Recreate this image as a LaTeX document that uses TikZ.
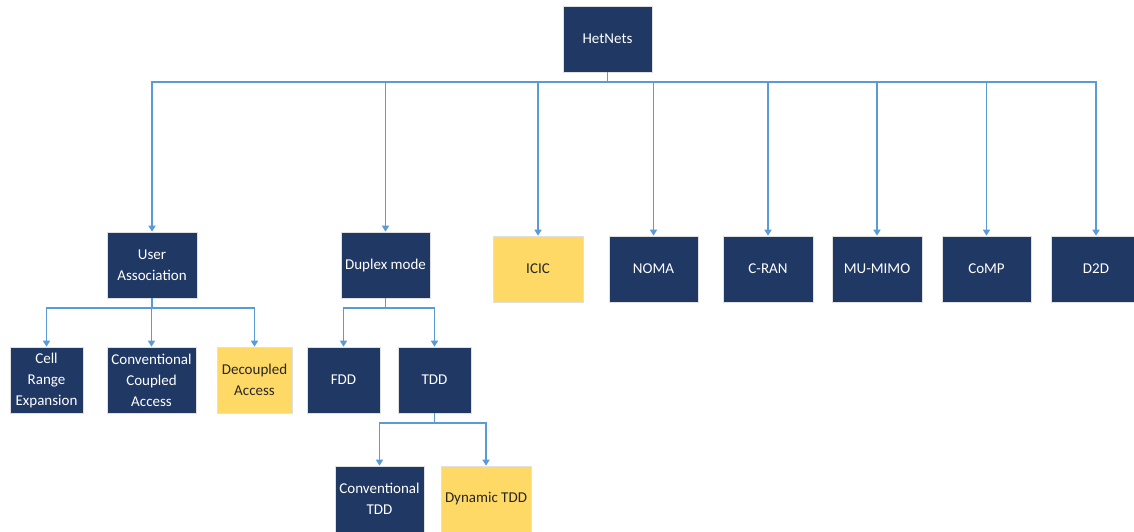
\documentclass[tikz,border=0pt]{standalone}
\usepackage{fontspec}
\setmainfont{Carlito}
\usetikzlibrary{arrows.meta}
\definecolor{navy}{HTML}{203864}
\definecolor{gold}{HTML}{FFD966}
\definecolor{lineblue}{HTML}{5B9BD5}
\tikzset{
  box/.style={rectangle, draw=black!12, line width=0.6pt, align=center, inner sep=2pt,
    font=\fontsize{15}{21}\selectfont, minimum height=66pt},
  dark/.style={box, fill=navy, text=white},
  light/.style={box, fill=gold, text=black!85},
  conn/.style={draw=lineblue, line width=1.6pt, -{Triangle[width=7pt,length=6pt]}}
}
\begin{document}
\begin{tikzpicture}[x=1pt,y=-1pt]
\clip (0,0) rectangle (1134,532);
\useasboundingbox (0,0) rectangle (1134,532);
\fill[white] (0,0) rectangle (1134,532);
% nodes
\node[dark, minimum width=89pt] (het) at (607.5,39) {HetNets};
\node[dark, minimum width=90pt] (ua) at (152,265) {User\\Association};
\node[dark, minimum width=89pt] (dup) at (385.5,265) {Duplex mode};
\node[light, minimum width=90pt] (icic) at (538,269) {ICIC};
\node[dark, minimum width=89pt] (noma) at (653.5,269) {NOMA};
\node[dark, minimum width=90pt] (cran) at (768,269) {C-RAN};
\node[dark, minimum width=90pt] (mumimo) at (877,269) {MU-MIMO};
\node[dark, minimum width=89pt] (comp) at (986.5,269) {CoMP};
\node[dark, minimum width=90pt] (d2d) at (1096,269) {D2D};
\node[dark, minimum width=73pt] (cre) at (46.5,380) {Cell\\Range\\Expansion};
\node[dark, minimum width=89pt] (cca) at (151.5,380) {Conventional\\Coupled\\Access};
\node[light, minimum width=75pt] (dec) at (254.5,380) {Decoupled\\Access};
\node[dark, minimum width=73pt] (fdd) at (343.5,380) {FDD};
\node[dark, minimum width=73pt] (tdd) at (434.5,380) {TDD};
\node[dark, minimum width=89pt] (ctdd) at (379.5,499) {Conventional\\TDD};
\node[light, minimum width=90pt] (dtdd) at (486,499) {Dynamic TDD};
% bus coordinates
\coordinate (b0) at (0,82);
\coordinate (b1) at (0,308);
\coordinate (b2) at (0,423);
% connectors
\foreach \n in {ua,dup,icic,noma,cran,mumimo,comp,d2d}
  \draw[conn] (het.south) -- (het.south |- b0) -| (\n.north);
\foreach \n in {cre,cca,dec}
  \draw[conn] (ua.south) -- (ua.south |- b1) -| (\n.north);
\foreach \n in {fdd,tdd}
  \draw[conn] (dup.south) -- (dup.south |- b1) -| (\n.north);
\foreach \n in {ctdd,dtdd}
  \draw[conn] (tdd.south) -- (tdd.south |- b2) -| (\n.north);
\end{tikzpicture}
\end{document}
